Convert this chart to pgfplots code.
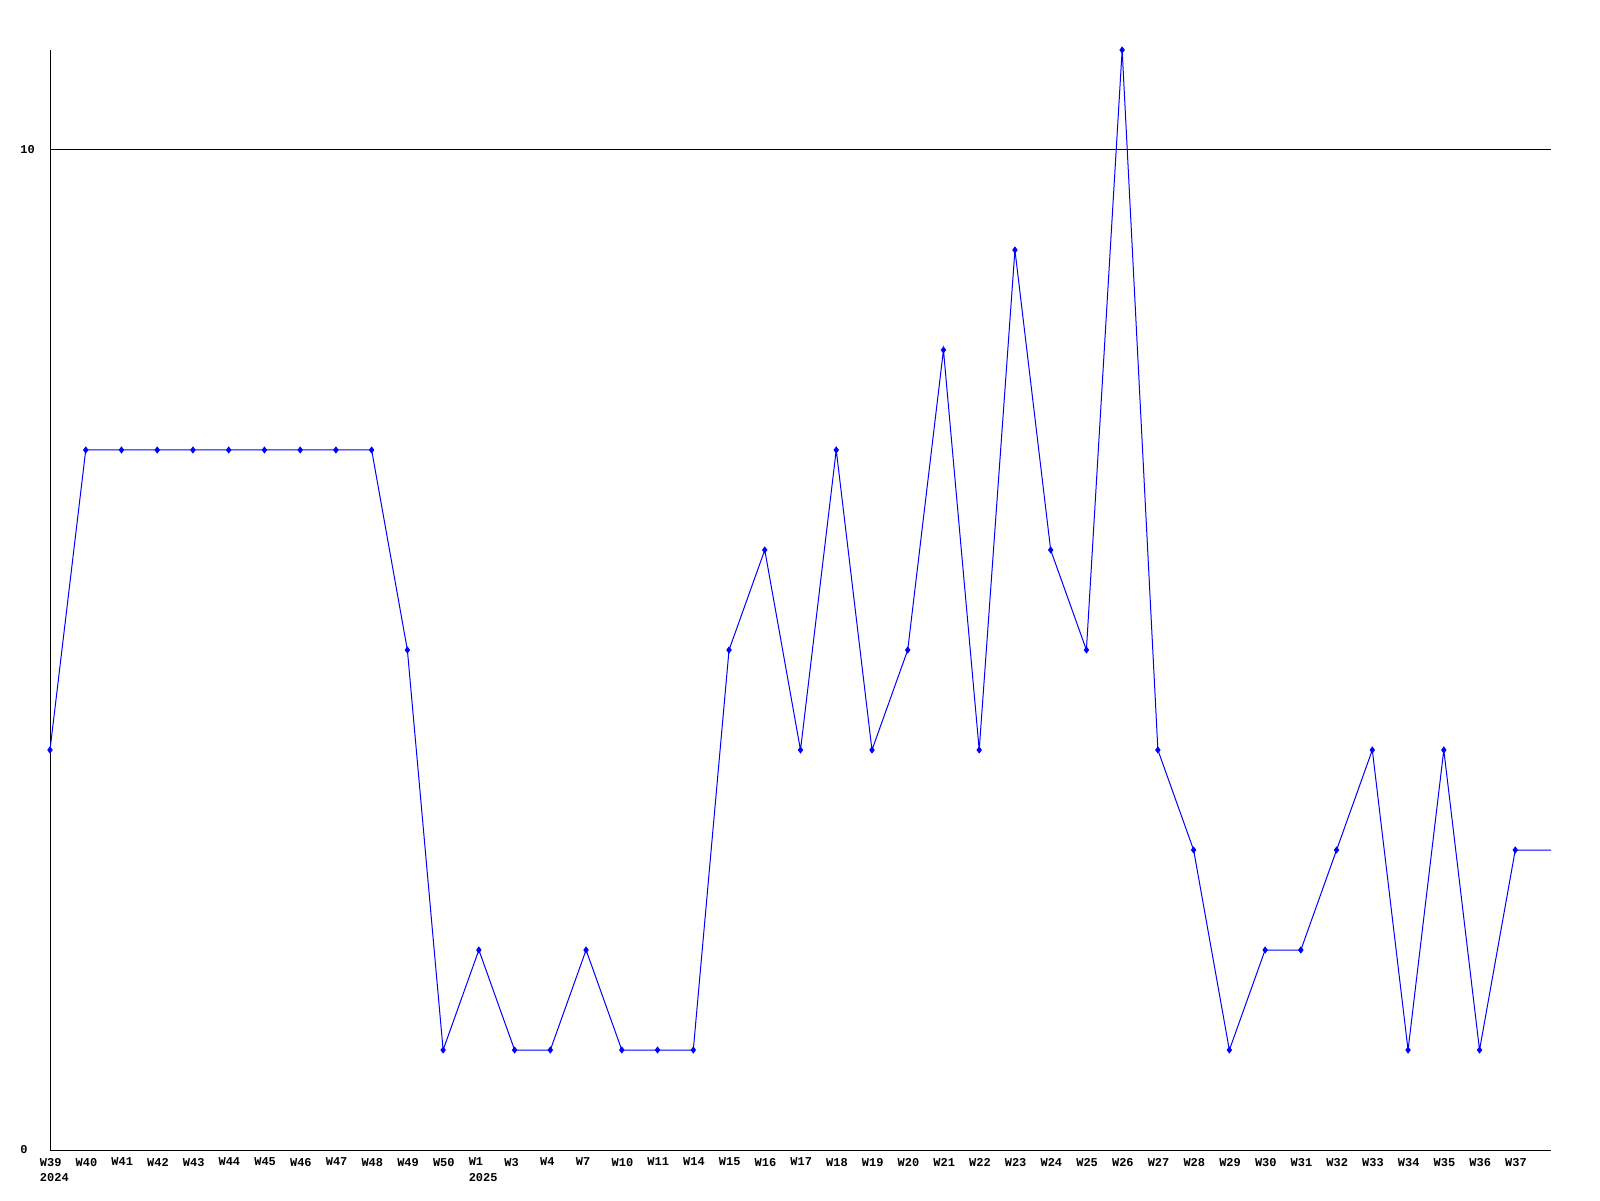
\documentclass[border=0pt]{standalone}
\usepackage{fontspec}
\setmainfont{Liberation Mono}
\setmonofont{Liberation Mono}
\usepackage{pgfplots}
\pgfplotsset{compat=1.18}
\begin{document}
\begin{tikzpicture}
\path[use as bounding box] (0,0) rectangle (800pt,600pt);
\begin{axis}[
    scale only axis, width=750.5pt, height=550pt,
    at={(25pt,25pt)}, anchor=south west,
    xmin=0, xmax=42, ymin=0, ymax=11,
    axis x line=bottom, axis y line=left,
    axis line style={-, line width=0.5pt, black},
    major tick length=0pt,
    ytick={0,10}, yticklabels={0,10},
    ymajorgrids, grid style={black, line width=0.5pt},
    xtick={0,...,41},
    xticklabels={{W39\\2024},W40,W41,W42,W43,W44,W45,W46,W47,W48,W49,W50,{W1\\2025},W3,W4,W7,W10,W11,W14,W15,W16,W17,W18,W19,W20,W21,W22,W23,W24,W25,W26,W27,W28,W29,W30,W31,W32,W33,W34,W35,W36,W37},
    /pgf/number format/assume math mode=true,
    tick label style={font=\ttfamily\bfseries\fontsize{6}{7.7}\selectfont, inner sep=0pt},
    xticklabel style={anchor=north west, xshift=-5.25pt, yshift=-3.8pt, align=left},
    yticklabel style={anchor=west, xshift=-15pt},
    clip=false
]
% weekly counts, last segment runs to the right edge without a mark
\addplot[color={rgb,255:red,0;green,0;blue,255}, line width=0.5pt,
    mark=diamond*, mark size=1.4pt, mark indices={1,...,42},
    mark options={fill={rgb,255:red,0;green,0;blue,255}}]
    coordinates {
    (0,4)(1,7)(2,7)(3,7)(4,7)(5,7)(6,7)(7,7)(8,7)(9,7)(10,5)(11,1)
    (12,2)(13,1)(14,1)(15,2)(16,1)(17,1)(18,1)(19,5)(20,6)(21,4)
    (22,7)(23,4)(24,5)(25,8)(26,4)(27,9)(28,6)(29,5)(30,11)(31,4)
    (32,3)(33,1)(34,2)(35,2)(36,3)(37,4)(38,1)(39,4)(40,1)(41,3)(42,3)
    };
\end{axis}
\end{tikzpicture}
\end{document}
